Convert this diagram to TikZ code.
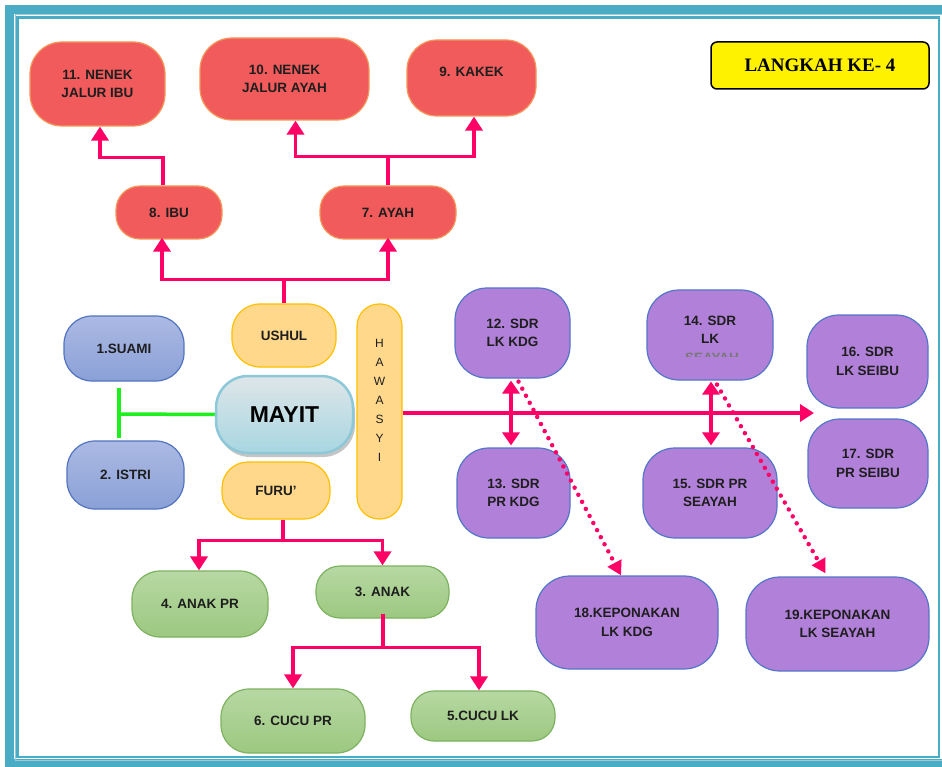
\documentclass[tikz,border=0pt]{standalone}
\usepackage{fontspec}
\setmainfont{Liberation Sans}
\newfontfamily\lserif{Liberation Serif}
\usetikzlibrary{arrows.meta,shadows}
\definecolor{framec}{RGB}{75,172,198}
\definecolor{framel}{RGB}{150,205,220}
\definecolor{redf}{RGB}{241,91,91}
\definecolor{redd}{RGB}{245,150,90}
\definecolor{bluet}{RGB}{172,186,228}
\definecolor{blueb}{RGB}{138,160,214}
\definecolor{blued}{RGB}{82,116,192}
\definecolor{yelf}{RGB}{255,216,140}
\definecolor{yeld}{RGB}{255,192,0}
\definecolor{purf}{RGB}{177,128,216}
\definecolor{purd}{RGB}{84,118,200}
\definecolor{grt}{RGB}{183,216,163}
\definecolor{grb}{RGB}{156,200,128}
\definecolor{grd}{RGB}{125,178,95}
\definecolor{pink1}{RGB}{255,0,102}
\definecolor{lime1}{RGB}{30,240,30}
\definecolor{txt}{RGB}{30,30,30}
\definecolor{mayt}{RGB}{222,230,233}
\definecolor{mayb}{RGB}{168,214,225}
\definecolor{mayd}{RGB}{140,200,216}
\begin{document}
\begin{tikzpicture}[x=1pt,y=-1pt,
  box/.style={rounded corners=28pt, line width=1.2pt, inner sep=0pt, align=center,
    font=\fontsize{13.5}{18.5}\selectfont\bfseries, text=txt},
  redbox/.style={box, fill=redf, draw=redd},
  bluebox/.style={box, top color=bluet, bottom color=blueb, draw=blued},
  yelbox/.style={box, fill=yelf, draw=yeld},
  purbox/.style={box, fill=purf, draw=purd},
  grbox/.style={box, top color=grt, bottom color=grb, draw=grd},
  pk/.style={draw=pink1, line width=3.5pt},
  pka/.style={pk, -{Triangle[length=14pt,width=17pt]}},
  pkd/.style={pk, {Triangle[length=13pt,width=17pt]}-{Triangle[length=13pt,width=17pt]}},
  pkdot/.style={draw=pink1, line width=4.5pt, line cap=round, dash pattern=on 0pt off 8pt,
    -{Triangle[length=14pt,width=15pt]}},
  gline/.style={draw=lime1, line width=3.5pt},
  txtonly/.style={inner sep=0pt, align=center, font=\fontsize{13.5}{18.5}\selectfont\bfseries, text=txt}
]
\useasboundingbox (0,0) rectangle (942,767);
\fill[white] (0,0) rectangle (942,767);
% frame
\draw[framec, line width=9pt] (9.5,9.5) rectangle (950,763.5);
\draw[framel, line width=1pt] (15,15) rectangle (942,760);
\draw[framec, line width=2.5pt] (17.5,17.5) rectangle (939,757);

% title
\node[draw=black, line width=1.5pt, fill=yellow, rounded corners=6pt, minimum width=218pt, minimum height=47pt,
  inner sep=0pt, font=\lserif\fontsize{19}{22}\selectfont\bfseries] (lang) at (820,65.5) {LANGKAH KE- 4};

% red nodes
\node[redbox, minimum width=135pt, minimum height=84pt, rounded corners=32pt] (n11) at (97.5,84) {11. NENEK\\JALUR IBU};
\node[redbox, minimum width=169pt, minimum height=82pt, rounded corners=32pt] (n10) at (284.5,79) {10. NENEK\\JALUR AYAH};
\node[redbox, minimum width=129pt, minimum height=76pt, rounded corners=30pt] (n9) at (471.5,78) {};
\node[txtonly] (n9t) at (471.5,72) {9. KAKEK};
\node[redbox, minimum width=106pt, minimum height=53pt, rounded corners=24pt] (n8) at (169,212.5) {8. IBU};
\node[redbox, minimum width=136pt, minimum height=53pt, rounded corners=24pt] (n7) at (388,212.5) {7. AYAH};

% middle
\node[bluebox, minimum width=120pt, minimum height=65pt] (suami) at (124,348.5) {1.SUAMI};
\node[bluebox, minimum width=117pt, minimum height=68pt] (istri) at (125.5,475) {2. ISTRI};
\node[yelbox, minimum width=104pt, minimum height=63pt] (ushul) at (284,335.5) {USHUL};
\node[yelbox, minimum width=108pt, minimum height=57pt, rounded corners=26pt] (furu) at (276,490.5) {FURU'};
\node[yelbox, minimum width=45pt, minimum height=215pt, rounded corners=22pt] (haw) at (379.5,411.5) {};
\node[inner sep=0pt, align=center, font=\fontsize{12}{19}\selectfont, text=txt] (hawt) at (379.5,400) {H\\A\\W\\A\\S\\Y\\I};
\node[draw=mayd, line width=2.5pt, top color=mayt, bottom color=mayb, rounded corners=32pt,
  minimum width=137pt, minimum height=77pt, inner sep=0pt,
  drop shadow={shadow xshift=2pt, shadow yshift=-4pt, fill=black!45},
  font=\fontsize{23}{26}\selectfont\bfseries, text=black] (mayit) at (284.5,414.5) {MAYIT};

% purple
\node[purbox, minimum width=115pt, minimum height=90pt, rounded corners=32pt] (n12) at (512.5,333) {12. SDR\\LK KDG};
\node[purbox, minimum width=113pt, minimum height=90pt, rounded corners=32pt] (n13) at (513.5,493) {13. SDR\\PR KDG};
\node[purbox, minimum width=126pt, minimum height=90pt, rounded corners=32pt] (n14) at (710,335) {};
\node[txtonly] (n14t) at (710,330) {14. SDR\\LK};
\begin{scope}
\clip (640,340) rectangle (780,356.5);
\node[txtonly, text=txt!60] (n14c) at (712,358) {SEAYAH};
\end{scope}
\node[purbox, minimum width=134pt, minimum height=90pt, rounded corners=32pt] (n15) at (710,493) {15. SDR PR\\SEAYAH};
\node[purbox, minimum width=121pt, minimum height=93pt, rounded corners=32pt] (n16) at (867.5,361.5) {16. SDR\\LK SEIBU};
\node[purbox, minimum width=120pt, minimum height=89pt, rounded corners=32pt] (n17) at (868,463.5) {17. SDR\\PR SEIBU};
\node[purbox, minimum width=182pt, minimum height=93pt, rounded corners=34pt] (n18) at (627,622.5) {18.KEPONAKAN\\LK KDG};
\node[purbox, minimum width=183pt, minimum height=94pt, rounded corners=34pt] (n19) at (837.5,624) {19.KEPONAKAN\\LK SEAYAH};

% green
\node[grbox, minimum width=136pt, minimum height=66pt] (n4) at (200,604) {4. ANAK PR};
\node[grbox, minimum width=133pt, minimum height=52pt, rounded corners=24pt] (n3) at (382.5,592) {3. ANAK};
\node[grbox, minimum width=144pt, minimum height=64pt] (n6) at (293,721) {6. CUCU PR};
\node[grbox, minimum width=144pt, minimum height=50pt, rounded corners=23pt] (n5) at (483,716) {5.CUCU LK};

% connectors top
\draw[pka] ([xshift=-6pt]n8.north) -- ++(0,-28) -| ([xshift=2.5pt]n11.south);
\draw[pk] (n7.north) -- ++(0,-29) coordinate (j7);
\draw[pka] (j7) -| ([xshift=11pt]n10.south);
\draw[pka] (j7) -| ([xshift=2.5pt]n9.south);
\draw[pk] (ushul.north) -- ++(0,-24) coordinate (ju);
\draw[pka] (ju) -| ([xshift=-7pt,yshift=2pt]n8.south);
\draw[pka] (ju) -| ([yshift=2pt]n7.south);

% green spouse line
\coordinate (gj) at (119,414);
\draw[gline] (mayit.west) -- (gj);
\draw[gline] ([yshift=-6pt]suami.south -| gj) -- ([yshift=2pt]istri.north -| gj);

% hawasyi arrow
\coordinate (hend) at (814,413);
\draw[pka] (haw.east |- hend) -- (hend);

% siblings
\draw[pkd] ([xshift=-1.5pt,yshift=-2pt]n12.south) -- ([xshift=-2.5pt,yshift=2pt]n13.north);
\draw[pkd] ([xshift=1pt,yshift=-1pt]n14.south) -- ([xshift=1pt,yshift=2pt]n15.north);
\draw[pkdot] ([xshift=6pt,yshift=-3pt]n12.south) -- ([xshift=-6pt]n18.north);
\draw[pkdot] ([xshift=7pt,yshift=-4pt]n14.south) -- ([xshift=-12pt,yshift=3pt]n19.north);

% furu
\draw[pk] ([xshift=7pt]furu.south) -- ++(0,21) coordinate (jf);
\draw[pka] (jf) -| ([xshift=-1pt]n4.north);
\draw[pka] (jf) -| (n3.north);
\draw[pk] ([xshift=0.5pt,yshift=5pt]n3.south) -- ++(0,34) coordinate (j3);
\draw[pka] (j3) -| (n6.north);
\draw[pka] (j3) -| ([xshift=-4pt]n5.north);
\end{tikzpicture}
\end{document}
